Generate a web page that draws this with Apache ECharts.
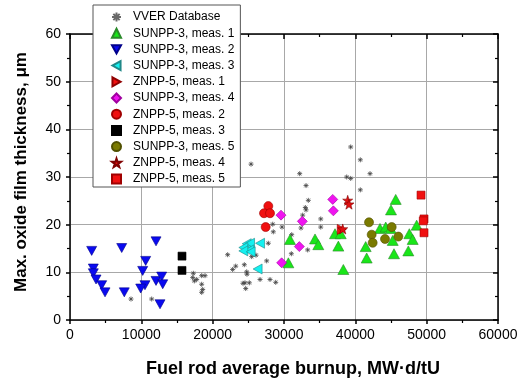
<!DOCTYPE html>
<html><head><meta charset="utf-8">
<script src="https://cdn.jsdelivr.net/npm/echarts@6/dist/echarts.min.js"></script>
<style>html,body{margin:0;padding:0;background:#fff}#c{width:524px;height:383px}</style>
</head><body><div id="c"></div>
<script>
const xTicks = [0, 10000, 20000, 30000, 40000, 50000, 60000];
const yTicks = [0, 10, 20, 30, 40, 50, 60];
const xTitle = "Fuel rod average burnup, MW·d/tU";
const yTitle = "Max. oxide film thickness, μm";

const vverDatabase = [[8550,4.4],[11450,4.4],[17290,9.8],[17200,8.9],[17760,8.5],[18460,9.3],[18930,9.3],[18460,7.5],[18600,6.4],[18460,5.8],[17430,8.2],[22100,13.7],[22800,10.6],[23230,11.3],[24440,11.6],[24770,10.1],[24810,9.6],[25470,13.3],[26080,13.6],[24530,7.8],[25140,7.8],[24630,6.6],[24250,7.7],[26640,8.5],[28040,8.5],[28840,7.9],[27570,12.4],[27800,16.1],[28420,20.1],[28500,18.5],[29720,19.5],[31080,17.9],[31030,13.9],[33320,14.7],[32380,19.3],[32620,22.0],[32990,23.6],[33090,23.1],[33410,25.1],[33090,28.2],[32200,30.7],[25380,32.7],[35150,21.2],[35150,19.5],[38790,30.0],[39350,29.7],[39350,36.3],[40700,33.6],[42060,30.7],[40700,27.3]];
const sunpp3Meas1 = [[30840,16.9],[30610,12.0],[34350,17.0],[34810,15.8],[37150,18.1],[37950,18.1],[37620,15.5],[38320,10.6],[41450,15.4],[41590,13.0],[43460,19.2],[44260,19.5],[44960,19.2],[45240,16.7],[45420,13.9],[45660,25.3],[45000,23.1],[48600,19.9],[47570,18.1],[48040,16.9],[47430,14.5]];
const sunpp3Meas2 = [[3040,14.5],[7250,15.1],[12060,16.5],[3270,10.8],[3270,9.8],[3650,8.5],[4440,7.3],[4910,5.8],[7610,5.8],[10610,12.4],[10190,10.3],[10510,7.3],[9910,6.6],[12060,8.2],[12850,9.1],[13000,7.5],[12620,3.3]];
const sunpp3Meas3 = [[24770,16.0],[25240,16.1],[26640,16.1],[24300,15.2],[25140,14.7],[24300,14.5],[25330,14.3],[26300,10.7]];
const znpp5Meas1 = [[38100,19.0]];
const sunpp3Meas4 = [[29580,22.0],[32570,20.7],[32150,15.4],[29670,12.0],[36830,25.3],[36920,22.9]];
const znpp5Meas2 = [[27800,23.9],[27200,22.4],[28040,22.4],[27430,19.5]];
const znpp5Meas3 = [[15700,13.4],[15700,10.4]];
const sunpp3Meas5 = [[41920,20.5],[42290,17.9],[42430,16.2],[44160,17.0],[45100,19.5],[46030,17.5]];
const znpp5Meas4 = [[38930,25.1],[39110,24.3],[38230,19.1]];
const znpp5Meas5 = [[49210,26.2],[49630,21.2],[49530,20.8],[49630,18.3]];

const FONT = "Liberation Sans, Arial, sans-serif";
const STAR = 'path://M5,0L6.2,3.6L10,3.6L7,5.9L8.1,9.5L5,7.3L1.9,9.5L3,5.9L0,3.6L3.8,3.6Z';
const ASTER = 'path://M5,0L5,10M0,5L10,5M1.5,1.5L8.5,8.5M1.5,8.5L8.5,1.5';
const DOWN = 'path://M0,0L10,0L5,9Z';
const LEFT = 'path://M9,0L0,5L9,10Z';
const RIGHT = 'path://M0,0L9,5L0,10Z';

function S(name, data, symbol, size, color, border) {
  return {
    name, type: 'scatter', data, symbol, symbolSize: size,
    itemStyle: { color, borderColor: border || color, borderWidth: border ? 0.6 : 0, opacity: 1 },
    emphasis: { disabled: true }
  };
}

const series = [
  {name: 'VVER Database', type: 'scatter', data: vverDatabase, symbol: ASTER, symbolSize: 5,
   itemStyle: {color: 'rgba(0,0,0,0)', borderColor: '#444', borderWidth: 1}, emphasis: {disabled: true}},
  S('SUNPP-3, meas. 1', sunpp3Meas1, 'triangle', [11, 10], '#19e619', '#2a8a2a'),
  S('SUNPP-3, meas. 2', sunpp3Meas2, DOWN, [10, 9], '#0a0af0', '#00008a'),
  S('SUNPP-3, meas. 3', sunpp3Meas3, LEFT, [9, 10], '#14f0f0', '#208888'),
  S('ZNPP-5, meas. 1', znpp5Meas1, RIGHT, [9, 10], '#f01010', '#900000'),
  S('SUNPP-3, meas. 4', sunpp3Meas4, 'diamond', [10, 10], '#f014f0', '#a000a0'),
  S('ZNPP-5, meas. 2', znpp5Meas2, 'circle', 9, '#f01010', '#a00000'),
  S('ZNPP-5, meas. 3', znpp5Meas3, 'rect', 8, '#000000', '#000000'),
  S('SUNPP-3, meas. 5', sunpp3Meas5, 'circle', 9, '#7a7a00', '#505000'),
  S('ZNPP-5, meas. 4', znpp5Meas4, STAR, 10, '#e01010', '#800000'),
  S('ZNPP-5, meas. 5', znpp5Meas5, 'rect', 8, '#f01010', '#a00000')
];

const gridLine = {show: true, lineStyle: {color: '#a8a8a8', width: 1}};
const frame = {show: true, onZero: false, lineStyle: {color: '#000', width: 1.5}};

const chart = echarts.init(document.getElementById('c'), null, {renderer: 'canvas'});
chart.setOption({
  animation: false,
  textStyle: {fontFamily: FONT},
  grid: {left: 70, right: 26, top: 34, bottom: 61},
  legend: {
    orient: 'vertical', left: 93, top: 5,
    backgroundColor: '#fff', borderColor: '#555', borderWidth: 1,
    padding: [6, 6, 2, 18], itemGap: 4.2, itemWidth: 9, itemHeight: 9,
    textStyle: {fontSize: 12, color: '#000', fontFamily: FONT, padding: [0, 0, 0, 7]},
    data: series.map(s => s.name)
  },
  xAxis: [
    {type: 'value', position: 'bottom', min: xTicks[0], max: xTicks[xTicks.length-1], interval: xTicks[1]-xTicks[0],
     axisLine: frame, splitLine: gridLine,
     axisTick: {show: true, inside: false, length: 4, lineStyle: {color: '#000', width: 1.5}},
     minorTick: {show: true, splitNumber: 2, length: 3, lineStyle: {color: '#000', width: 1.2}},
     axisLabel: {fontSize: 14, color: '#000', margin: 8, fontFamily: FONT, formatter: v => String(v)},
     name: xTitle, nameLocation: 'middle', nameGap: 40,
     nameTextStyle: {fontSize: 18, fontWeight: 'bold', color: '#000', fontFamily: FONT, padding: [0, 0, 0, 18]}},
    {type: 'value', position: 'top', min: xTicks[0], max: xTicks[xTicks.length-1], interval: xTicks[1]-xTicks[0],
     axisLine: frame, splitLine: {show: false}, axisLabel: {show: false},
     axisTick: {show: true, inside: true, length: 5, lineStyle: {color: '#000', width: 1.5}},
     minorTick: {show: true, splitNumber: 2, length: 3, lineStyle: {color: '#000', width: 1.2}}}
  ],
  yAxis: [
    {type: 'value', position: 'left', min: yTicks[0], max: yTicks[yTicks.length-1], interval: yTicks[1]-yTicks[0],
     axisLine: frame, splitLine: gridLine,
     axisTick: {show: true, inside: false, length: 4, lineStyle: {color: '#000', width: 1.5}},
     minorTick: {show: true, splitNumber: 2, length: 3, lineStyle: {color: '#000', width: 1.2}},
     axisLabel: {fontSize: 14, color: '#000', margin: 9, fontFamily: FONT},
     name: yTitle, nameLocation: 'middle', nameGap: 40, nameRotate: 90,
     nameTextStyle: {fontSize: 17, fontWeight: 'bold', color: '#000', fontFamily: FONT, padding: [0, 0, 0, 10]}},
    {type: 'value', position: 'right', min: yTicks[0], max: yTicks[yTicks.length-1], interval: yTicks[1]-yTicks[0],
     axisLine: frame, splitLine: {show: false}, axisLabel: {show: false},
     axisTick: {show: true, inside: true, length: 5, lineStyle: {color: '#000', width: 1.5}},
     minorTick: {show: true, splitNumber: 2, length: 3, lineStyle: {color: '#000', width: 1.2}}}
  ],
  series: series
});
</script></body></html>
